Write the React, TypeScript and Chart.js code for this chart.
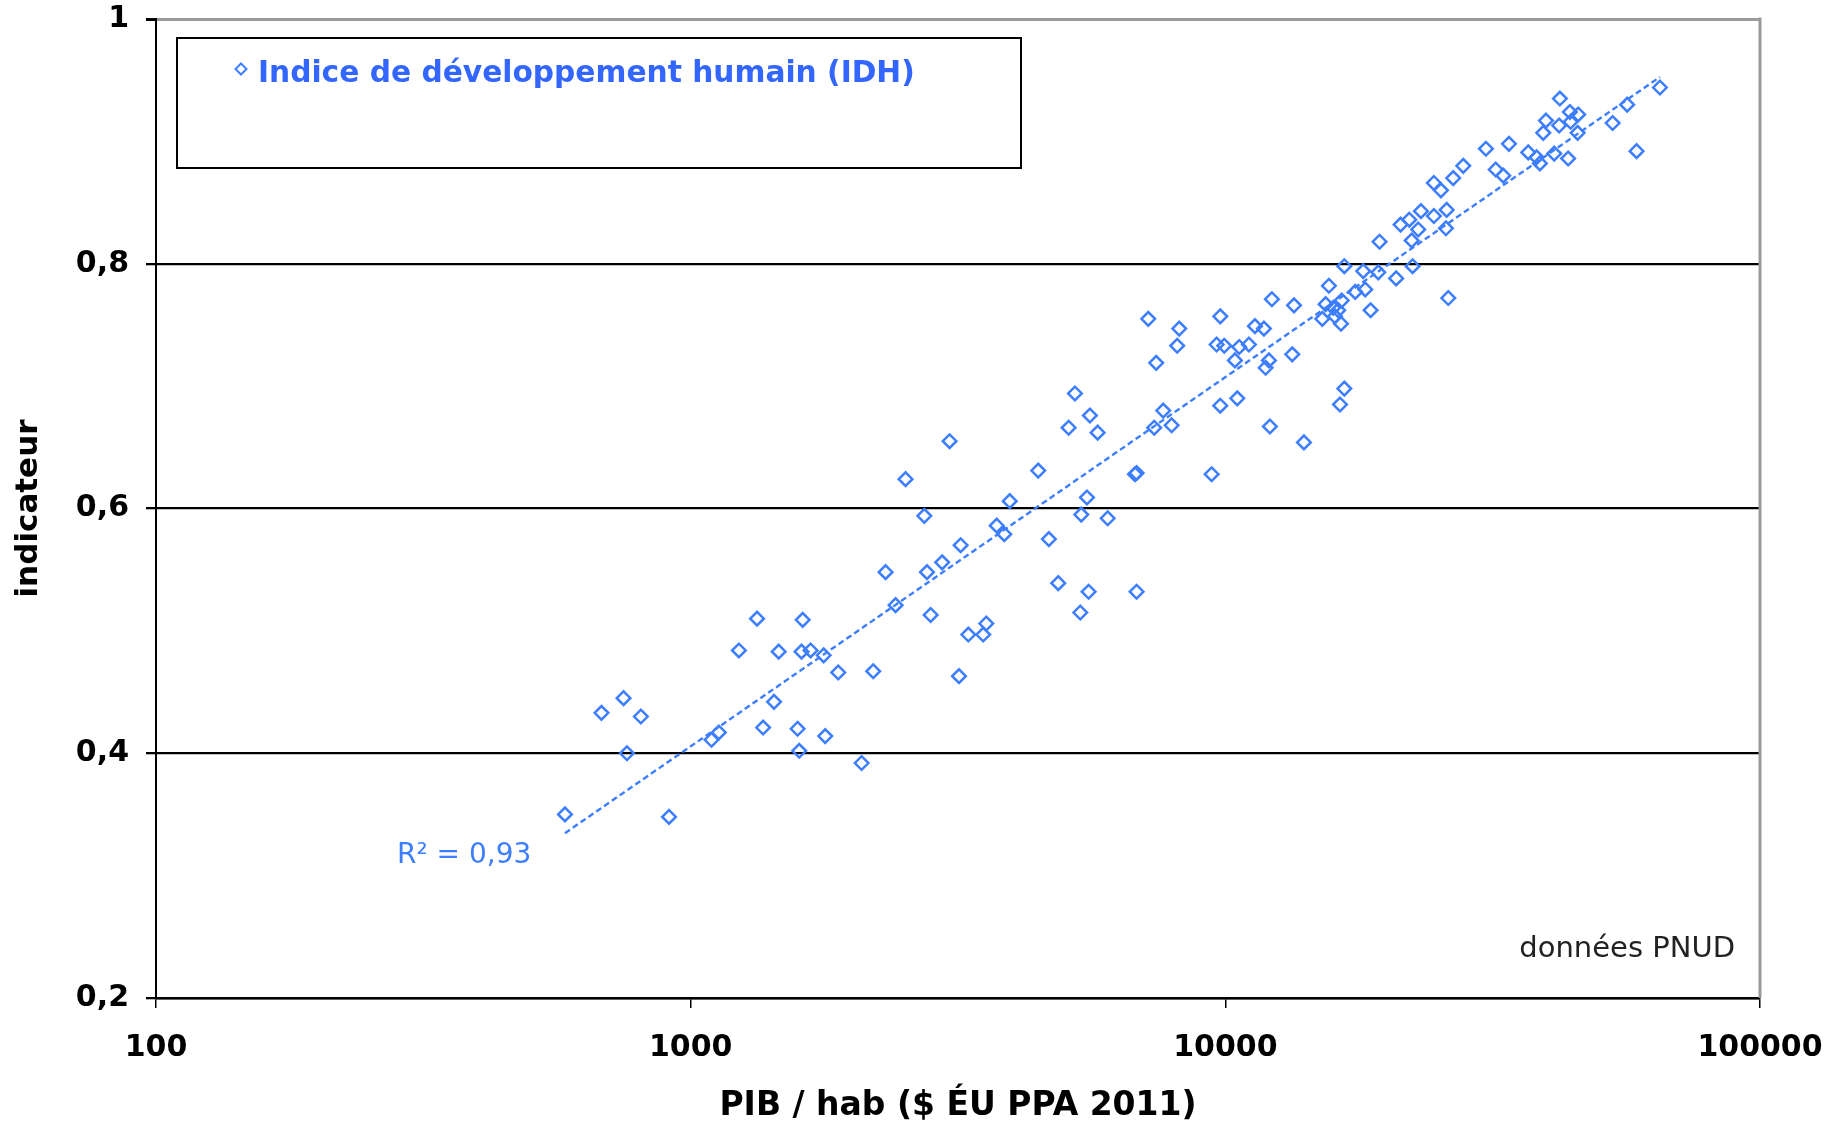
import React, { useEffect, useRef } from 'react';
import { Chart, registerables } from 'chart.js';

Chart.register(...registerables);

// ---- data ----
const GDP_PER_CAPITA: number[] = [
  582, 911, 681, 749, 807, 760, 1094, 1129, 1231, 1331, 1461, 1366, 1432, 1620, 1612, 1676, 1773, 1585, 1596, 1785,
  1888, 2195, 2088, 2417, 2811,
  3176, 2315, 2767, 2954, 3199, 2735, 2523, 3050, 3306, 3525, 3572, 3736, 3860, 3952, 4467, 4677, 4870, 5354, 5550,
  5377, 5511, 6025, 5093, 5233, 5582, 5770, 6824, 6776, 6824,
  9428, 7175, 8199, 8128, 7425, 7653, 7362, 7935, 9784, 9631, 9954, 10617, 11069, 10422, 11360, 11808, 9784, 10527,
  12116, 14030, 12065, 11895, 12220, 13440, 13340,
  16385, 16693, 15622, 16693, 15404, 16508, 15916, 15182, 16032, 16457, 16260, 17498, 18268, 18110, 19320, 18694,
  20870, 22400, 19430, 26120, 22310,
  22950, 21270, 22080, 23220, 24550, 25940, 25860, 24550, 25310, 26680, 27860, 30720, 33920, 32040, 33100, 36860,
  38210, 38760, 41220, 39320,
  43770, 39780, 42240, 42110, 44100, 45710, 44230, 45600, 53010, 56440, 58770, 64990,
];

const HDI: number[] = [
  0.350, 0.348, 0.433, 0.445, 0.430, 0.400, 0.411, 0.417, 0.484, 0.510, 0.483, 0.421, 0.442, 0.509, 0.483, 0.484, 0.480, 0.420, 0.402, 0.414,
  0.466, 0.467, 0.392, 0.521, 0.513,
  0.463, 0.548, 0.548, 0.556, 0.570, 0.594, 0.624, 0.655, 0.497, 0.497, 0.506, 0.586, 0.579, 0.606, 0.631, 0.575, 0.539, 0.515, 0.532,
  0.595, 0.609, 0.592, 0.666, 0.694, 0.676, 0.662, 0.629, 0.628, 0.532,
  0.628, 0.755, 0.747, 0.733, 0.719, 0.680, 0.666, 0.668, 0.757, 0.734, 0.733, 0.732, 0.734, 0.721, 0.749, 0.747, 0.684, 0.690,
  0.667, 0.654, 0.721, 0.715, 0.771, 0.766, 0.726,
  0.685, 0.698, 0.782, 0.798, 0.767, 0.770, 0.764, 0.755, 0.757, 0.751, 0.762, 0.777, 0.779, 0.794, 0.793, 0.762,
  0.788, 0.798, 0.818, 0.772, 0.819,
  0.828, 0.832, 0.836, 0.843, 0.839, 0.844, 0.829, 0.866, 0.860, 0.870, 0.880, 0.894, 0.898, 0.877, 0.872, 0.891,
  0.887, 0.882, 0.890, 0.907,
  0.886, 0.917, 0.935, 0.913, 0.924, 0.922, 0.916, 0.907, 0.915, 0.930, 0.892, 0.944,
];

const X_TICKS: number[] = [100, 1000, 10000, 100000];
const Y_TICKS: number[] = [0.2, 0.4, 0.6, 0.8, 1];
const SERIES_LABEL = 'Indice de développement humain (IDH)';
const X_TITLE = 'PIB / hab ($ ÉU PPA 2011)';
const Y_TITLE = 'indicateur';
const R2_LABEL = 'R² = 0,93';
const SOURCE_LABEL = 'données PNUD';

// ---- styling ----
const FONT = '"DejaVu Sans", Verdana, sans-serif';
const POINT_COLOR = '#3d7eff';
const LEGEND_TEXT_COLOR = '#3366ff';
const FRAME_GRAY = '#9a9a9a';

function logFit(xs: number[], ys: number[]) {
  const lx = xs.map((v) => Math.log10(v));
  const n = lx.length;
  const mx = lx.reduce((a, b) => a + b, 0) / n;
  const my = ys.reduce((a, b) => a + b, 0) / n;
  let sxy = 0;
  let sxx = 0;
  for (let i = 0; i < n; i++) {
    sxy += (lx[i] - mx) * (ys[i] - my);
    sxx += (lx[i] - mx) * (lx[i] - mx);
  }
  const b = sxy / sxx;
  const a = my - b * mx;
  return { a, b };
}

const decorPlugin = {
  id: 'decor',
  afterDraw(chart: any) {
    const { ctx, chartArea: ca } = chart;
    ctx.save();
    // right frame line
    ctx.strokeStyle = FRAME_GRAY;
    ctx.lineWidth = 3;
    ctx.beginPath();
    ctx.moveTo(ca.right, ca.top - 1.5);
    ctx.lineTo(ca.right, ca.bottom);
    ctx.stroke();

    // legend box
    const bx = ca.left + 21;
    const by = ca.top + 19;
    const bw = 844;
    const bh = 130;
    ctx.fillStyle = '#ffffff';
    ctx.fillRect(bx, by, bw, bh);
    ctx.strokeStyle = '#000000';
    ctx.lineWidth = 2;
    ctx.strokeRect(bx, by, bw, bh);

    // legend marker (hollow diamond)
    const mx = ca.left + 85;
    const my = ca.top + 50;
    const r = 5.5;
    ctx.strokeStyle = POINT_COLOR;
    ctx.lineWidth = 2;
    ctx.beginPath();
    ctx.moveTo(mx, my - r);
    ctx.lineTo(mx + r, my);
    ctx.lineTo(mx, my + r);
    ctx.lineTo(mx - r, my);
    ctx.closePath();
    ctx.stroke();

    // legend text
    ctx.fillStyle = LEGEND_TEXT_COLOR;
    ctx.font = `bold 29.7px ${FONT}`;
    ctx.textAlign = 'left';
    ctx.textBaseline = 'alphabetic';
    ctx.fillText(SERIES_LABEL, ca.left + 102, ca.top + 63);

    // R² label
    ctx.fillStyle = POINT_COLOR;
    ctx.font = `28px ${FONT}`;
    ctx.fillText(R2_LABEL, ca.left + 241, ca.top + 844);

    // source label
    ctx.fillStyle = '#222222';
    ctx.font = `29px ${FONT}`;
    ctx.textAlign = 'right';
    ctx.fillText(SOURCE_LABEL, ca.right - 25, ca.top + 938);
    ctx.restore();
  },
};

export default function App() {
  const canvasRef = useRef<HTMLCanvasElement | null>(null);

  useEffect(() => {
    const canvas = canvasRef.current;
    if (!canvas) return;

    const points = GDP_PER_CAPITA.map((x, i) => ({ x, y: HDI[i] }));
    const { a, b } = logFit(GDP_PER_CAPITA, HDI);
    const minX = Math.min(...GDP_PER_CAPITA);
    const maxX = Math.max(...GDP_PER_CAPITA);
    const trend = [minX, maxX].map((x) => ({ x, y: a + b * Math.log10(x) }));

    const tickFont = { family: FONT, size: 30, weight: 'bold' as const, lineHeight: 1 };

    const chart = new Chart(canvas, {
      type: 'scatter',
      data: {
        datasets: [
          {
            type: 'line',
            label: 'trend',
            data: trend,
            borderColor: POINT_COLOR,
            borderWidth: 2.4,
            borderDash: [6, 3.5],
            pointRadius: 0,
            fill: false,
            order: 0,
          } as any,
          {
            type: 'scatter',
            label: SERIES_LABEL,
            data: points,
            pointStyle: 'rectRot',
            pointRadius: 6.8,
            pointBorderWidth: 2.5,
            borderWidth: 2.5,
            borderColor: POINT_COLOR,
            pointBorderColor: POINT_COLOR,
            backgroundColor: 'rgba(0,0,0,0)',
            pointBackgroundColor: 'rgba(0,0,0,0)',
            order: 1,
          } as any,
        ],
      },
      options: {
        responsive: false,
        animation: false,
        devicePixelRatio: 1,
        layout: { padding: { left: 0, right: 82, top: 19, bottom: 0 } },
        plugins: {
          legend: { display: false },
          tooltip: { enabled: false },
        },
        scales: {
          x: {
            type: 'logarithmic',
            position: 'bottom',
            min: 100,
            max: 100000,
            afterBuildTicks: (s: any) => {
              s.ticks = X_TICKS.map((v) => ({ value: v }));
            },
            afterFit: (s: any) => {
              s.height = 125;
              s.paddingLeft = 0;
              s.paddingRight = 0;
            },
            ticks: {
              callback: (v: any) => String(v),
              font: tickFont,
              color: '#000',
              padding: 25,
              maxRotation: 0,
              autoSkip: false,
            },
            grid: {
              drawOnChartArea: false,
              drawTicks: true,
              tickLength: 10,
              tickColor: '#000',
              lineWidth: 1.5,
            },
            border: { display: true, color: '#000', width: 2.5 },
            title: {
              display: true,
              text: X_TITLE,
              color: '#000',
              font: { family: FONT, size: 33, weight: 'bold', lineHeight: 1 },
              padding: { top: 0, bottom: 0 },
            },
          },
          y: {
            type: 'linear',
            min: 0.2,
            max: 1,
            afterBuildTicks: (s: any) => {
              s.ticks = Y_TICKS.map((v) => ({ value: v }));
            },
            afterFit: (s: any) => {
              s.width = 156;
              s.paddingTop = 0;
              s.paddingBottom = 0;
            },
            ticks: {
              callback: (v: any) => (Number(v) === 1 ? '1' : Number(v).toFixed(1).replace('.', ',')),
              font: tickFont,
              color: '#000',
              padding: 17,
            },
            grid: {
              color: (c: any) => (c.tick && c.tick.value === 1 ? FRAME_GRAY : '#000'),
              lineWidth: (c: any) => (c.tick && c.tick.value === 1 ? 3 : 2.3),
              drawTicks: true,
              tickLength: 10,
              tickColor: '#000',
            },
            border: { display: true, color: '#000', width: 2 },
            title: {
              display: true,
              text: Y_TITLE,
              color: '#000',
              font: { family: FONT, size: 31, weight: 'bold', lineHeight: 1 },
              padding: { top: 13, bottom: 0 },
            },
          },
        },
      } as any,
      plugins: [decorPlugin],
    });

    return () => {
      chart.destroy();
    };
  }, []);

  return (
    <div
      style={{
        position: 'fixed',
        left: 0,
        top: 0,
        width: 1842,
        height: 1123,
        background: '#ffffff',
      }}
    >
      <canvas ref={canvasRef} width={1842} height={1123} style={{ width: 1842, height: 1123, display: 'block' }} />
    </div>
  );
}
